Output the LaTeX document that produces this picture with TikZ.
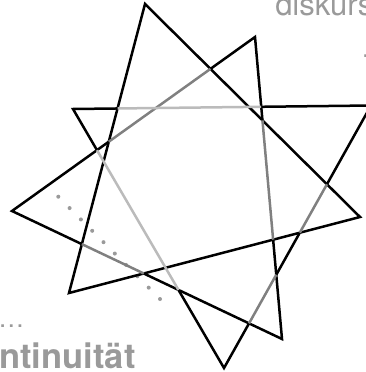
\documentclass[tikz,border=0pt]{standalone}
\usepackage{fontspec}
\setmainfont{TeX Gyre Heros}
\definecolor{midgray}{HTML}{808080}
\definecolor{lightgray2}{HTML}{BBBBBB}
\definecolor{txtgray}{HTML}{9A9A9A}
\begin{document}
\begin{tikzpicture}[x=1pt,y=-1pt,line width=2.5pt,line join=miter,
  blk/.style={draw=black},
  midseg/.style={draw=midgray},
  lightseg/.style={draw=lightgray2},
  label/.style={text=txtgray,inner sep=0pt,anchor=base west},
  dotc/.style={fill=txtgray}]
\useasboundingbox (0,0) rectangle (366,372);
\clip (0,0) rectangle (366,372);
% vertices
\coordinate (P1) at (145,4);
\coordinate (P2) at (360,217);
\coordinate (P3) at (69,293);
\coordinate (Q1) at (255,37);
\coordinate (Q2) at (282,339);
\coordinate (Q3) at (12,211);
\coordinate (R1) at (73,109);
\coordinate (R2) at (371,105.5);
\coordinate (R3) at (224,368);
% crossings
\coordinate (B13a) at (intersection of Q1--Q3 and P1--P2);
\coordinate (B13b) at (intersection of Q1--Q3 and P1--P3);
\coordinate (B32a) at (intersection of Q3--Q2 and P1--P3);
\coordinate (B32b) at (intersection of Q3--Q2 and P3--P2);
\coordinate (B12a) at (intersection of Q1--Q2 and P1--P2);
\coordinate (B12b) at (intersection of Q1--Q2 and P2--P3);
\coordinate (C12a) at (intersection of R1--R2 and P1--P3);
\coordinate (C12b) at (intersection of R1--R2 and Q1--Q2);
\coordinate (C23a) at (intersection of R2--R3 and P1--P2);
\coordinate (C23b) at (intersection of R2--R3 and P2--P3);
\coordinate (C23c) at (intersection of R2--R3 and Q1--Q2);
\coordinate (C23d) at (intersection of R2--R3 and Q3--Q2);
\coordinate (C31a) at (intersection of R3--R1 and Q3--Q2);
\coordinate (C31b) at (intersection of R3--R1 and Q1--Q3);
% dotted trail
\foreach \i in {0,...,9}
  \fill[dotc] ({58.3+11.3*\i},{196.7+11.37*\i}) circle[radius=2pt];
% triangle A
\draw[blk] (P1) -- (P2) -- (P3) -- cycle;
% triangle B
\draw[blk] (B13b) -- (Q3) -- (B32a);
\draw[blk] (B32b) -- (Q2) -- (B12b);
\draw[blk] (B12a) -- (Q1) -- (B13a);
\draw[midseg] (B13a) -- (B13b);
\draw[midseg] (B32a) -- (B32b);
\draw[midseg] (B12a) -- (B12b);
% triangle C
\draw[blk] (C31b) -- (R1) -- (C12a);
\draw[blk] (C12b) -- (R2) -- (C23a);
\draw[blk] (C23b) -- (C23c);
\draw[blk] (C23d) -- (R3) -- (C31a);
\draw[lightseg] (C12a) -- (C12b);
\draw[midseg] (C23a) -- (C23b);
\draw[midseg] (C23c) -- (C23d);
\draw[lightseg] (C31a) -- (C31b);
% texts
\node[label,font=\fontsize{31}{31}\selectfont] (disk) at (274,15) {diskurs};
\node[label,font=\fontsize{26}{26}\selectfont] (dotsr) at (360,57) {…};
\node[label,font=\fontsize{26}{26}\selectfont] (dotsl) at (-3,327) {…};
\node[label,font=\bfseries\fontsize{34.5}{34.5}\selectfont] (kont) at (-2,368) {ntinuität};
\end{tikzpicture}
\end{document}
